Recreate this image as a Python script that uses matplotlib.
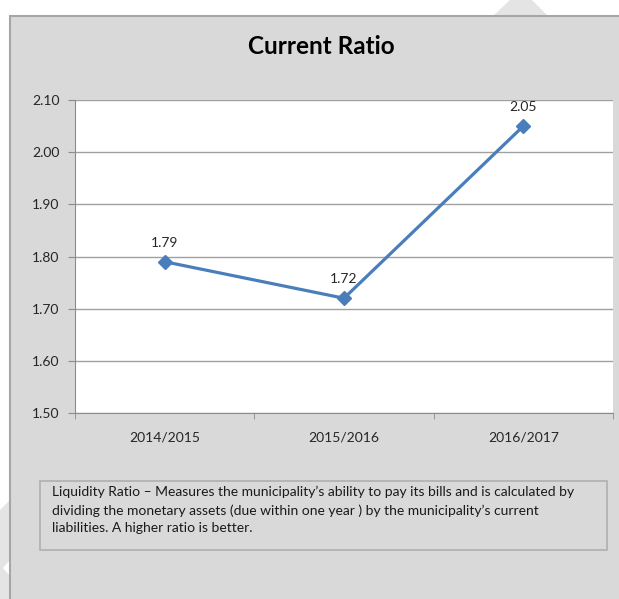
import matplotlib.pyplot as plt
from matplotlib.patches import Rectangle, Polygon

plt.rcParams['font.family'] = ['Lato', 'DejaVu Sans']

# datos
years = ['2014/2015', '2015/2016', '2016/2017']
ratio = [1.79, 1.72, 2.05]
yticks = [1.50, 1.60, 1.70, 1.80, 1.90, 2.00, 2.10]
note = ("Liquidity Ratio \u2013 Measures the municipality\u2019s ability to pay its bills and is calculated by\n"
        "dividing the monetary assets (due within one year ) by the municipality\u2019s current\n"
        "liabilities. A higher ratio is better.")

W, H = 619, 599
fig = plt.figure(figsize=(W / 100, H / 100), dpi=100)
fig.patch.set_facecolor('white')

def px(x, y):
    # pixel (desde arriba-izquierda) -> coordenadas de figura
    return x / W, 1 - y / H

def add_bg(patch):
    patch.set_zorder(-10)
    fig.add_artist(patch)

# fondo gris del recuadro
add_bg(Polygon([px(493, 16), px(510, 0), px(532, 0), px(548, 16)], closed=True,
               transform=fig.transFigure, facecolor='#e4e4e4', edgecolor='none'))
add_bg(Polygon([px(0, 510), px(10, 500), px(10, 599), px(0, 599)], closed=True,
               transform=fig.transFigure, facecolor='#e4e4e4', edgecolor='none'))
add_bg(Polygon([px(3, 568), px(10, 560), px(10, 576)], closed=True,
               transform=fig.transFigure, facecolor='white', edgecolor='none'))
x0, y0 = px(10, 16)
add_bg(Rectangle((x0, -0.01), 1.02 - x0, y0 + 0.01, transform=fig.transFigure,
                 facecolor='#d9d9d9', edgecolor='#a6a6a6', linewidth=1.5))

# caja de texto
bx0, by1 = px(40, 481)
bx1, by0 = px(607, 550)
add_bg(Rectangle((bx0, by0), bx1 - bx0, by1 - by0, transform=fig.transFigure,
                 facecolor='#d9d9d9', edgecolor='#b0b0b0', linewidth=1.2))
tx, ty = px(52, 486)
fig.text(tx, ty, note, ha='left', va='top', fontsize=10, color='#1a1a1a', linespacing=1.55)

# titulo
t_x, t_y = px(321, 46)
fig.text(t_x, t_y, 'Current Ratio', ha='center', va='center', fontsize=17.5, fontweight='bold', color='#000000')

# ejes
l, t = px(75, 100)
r, b = px(613, 413)
ax = fig.add_axes([l, b, r - l, t - b])
ax.set_facecolor('white')
xs = list(range(len(years)))
ax.plot(xs, ratio, color='#4a7ebb', linewidth=2.3, marker='D', markersize=7.5, zorder=3)
for x, v in zip(xs, ratio):
    ax.annotate(f'{v:.2f}', (x, v), xytext=(0, 19), textcoords='offset pixels',
                ha='center', va='center', fontsize=10, color='#262626')

ax.set_xlim(-0.5, 2.5)
ax.set_ylim(1.5, 2.1)
ax.set_yticks(yticks)
ax.set_yticklabels([f'{v:.2f}' for v in yticks])
ax.set_xticks(xs)
ax.set_xticklabels(years)
ax.set_xticks([-0.5, 0.5, 1.5, 2.5], minor=True)
ax.tick_params(axis='x', which='major', length=0, pad=13, labelsize=10, labelcolor='#262626')
ax.tick_params(axis='x', which='minor', length=4, color='#8c8c8c', direction='out')
ax.tick_params(axis='y', length=5, color='#8c8c8c', pad=6, labelsize=10, labelcolor='#262626')
ax.grid(axis='y', color='#a0a0a0', linewidth=1)
ax.set_axisbelow(True)
for s in ['top', 'right']:
    ax.spines[s].set_visible(False)
for s in ['left', 'bottom']:
    ax.spines[s].set_color('#8c8c8c')

fig.savefig('out.png', dpi=100)
